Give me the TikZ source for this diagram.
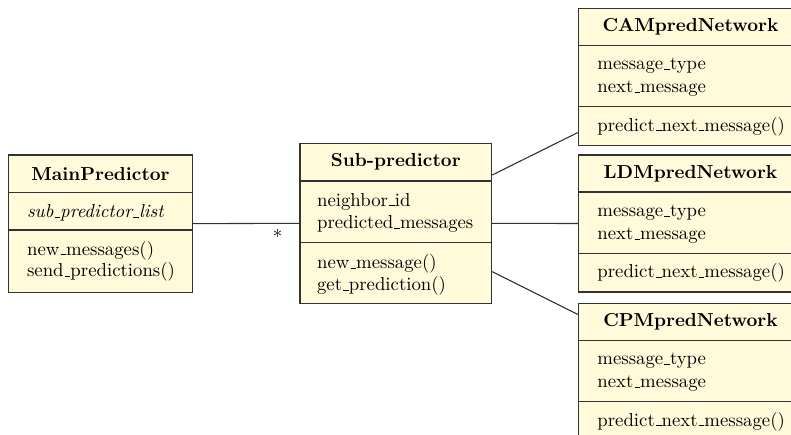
\documentclass[tikz,border=0pt]{standalone}
\usetikzlibrary{fit,calc}
\definecolor{umlfill}{RGB}{255,250,218}
\definecolor{umlline}{RGB}{50,50,50}
\newcommand\us{\leavevmode\kern.06em\vbox{\hrule width.3em}}
\newcommand\umlfont{\fontsize{10.35pt}{12pt}\selectfont}
\begin{document}
\begin{tikzpicture}[x=0.551pt,y=-0.551pt,
  umlbox/.style={draw=umlline,fill=umlfill,line width=0.6pt,inner sep=0pt},
  sepline/.style={draw=umlline,line width=0.6pt},
  conn/.style={draw=umlline,line width=0.6pt},
  titletext/.style={font=\umlfont\bfseries,anchor=base,inner sep=0pt},
  itemtext/.style={font=\umlfont,anchor=base west,inner sep=0pt}]
\useasboundingbox (0,0) rectangle (791,434);
\clip (0,0) rectangle (791,434);
% MainPredictor
\node[umlbox,fit={(8.3,155) (192.7,292.3)}] (main) {};
\draw[sepline] (8.3,192.7) -- (192.7,192.7);
\draw[sepline] (8.3,230) -- (192.7,230);
\node[titletext] (mainT) at (100.5,180) {MainPredictor};
\node[itemtext] (mainA) at (26.7,217.3) {\textit{sub\us predictor\us list}};
\node[itemtext] (mainM1) at (26.7,255) {new\us messages()};
\node[itemtext] (mainM2) at (26.7,276.5) {send\us predictions()};
% Sub-predictor
\node[umlbox,fit={(300,143.3) (491.7,303.3)}] (sub) {};
\draw[sepline] (300,181) -- (491.7,181);
\draw[sepline] (300,242.3) -- (491.7,242.3);
\node[titletext] (subT) at (395.8,166.7) {Sub-predictor};
\node[itemtext] (subA1) at (316.7,206) {neighbor\us id};
\node[itemtext] (subA2) at (316.7,228.3) {predicted\us messages};
\node[itemtext] (subM1) at (316.7,268.3) {new\us message()};
\node[itemtext] (subM2) at (316.7,290.5) {get\us prediction()};
% right boxes
\foreach \nm/\top/\ttl in {cam/8.3/CAMpredNetwork, ldm/155/LDMpredNetwork, cpm/303.3/CPMpredNetwork}{
  \node[umlbox,fit={(578.3,\top) (802.7,{\top+137})}] (\nm) {};
  \draw[sepline] (578.3,{\top+37}) -- (802.7,{\top+37});
  \draw[sepline] (578.3,{\top+98.5}) -- (802.7,{\top+98.5});
  \node[titletext] (\nm T) at (690.5,{\top+23}) {\ttl};
  \node[itemtext] (\nm A1) at (597,{\top+61.5}) {message\us type};
  \node[itemtext] (\nm A2) at (597,{\top+84.5}) {next\us message};
  \node[itemtext] (\nm M1) at (597,{\top+122.8}) {predict\us next\us message()};
}
% connectors
\draw[conn] (main.east) -- (sub.west);
\node[font=\umlfont,inner sep=0pt] (star) at (277.5,236) {*};
\draw[conn] ($(sub.east)+(0,-48.3)$) -- ($(cam.south west)+(0,-13.3)$);
\draw[conn] (sub.east) -- (ldm.west);
\draw[conn] ($(sub.east)+(0,48.4)$) -- ($(cpm.north west)+(0,11.7)$);
\end{tikzpicture}
\end{document}
